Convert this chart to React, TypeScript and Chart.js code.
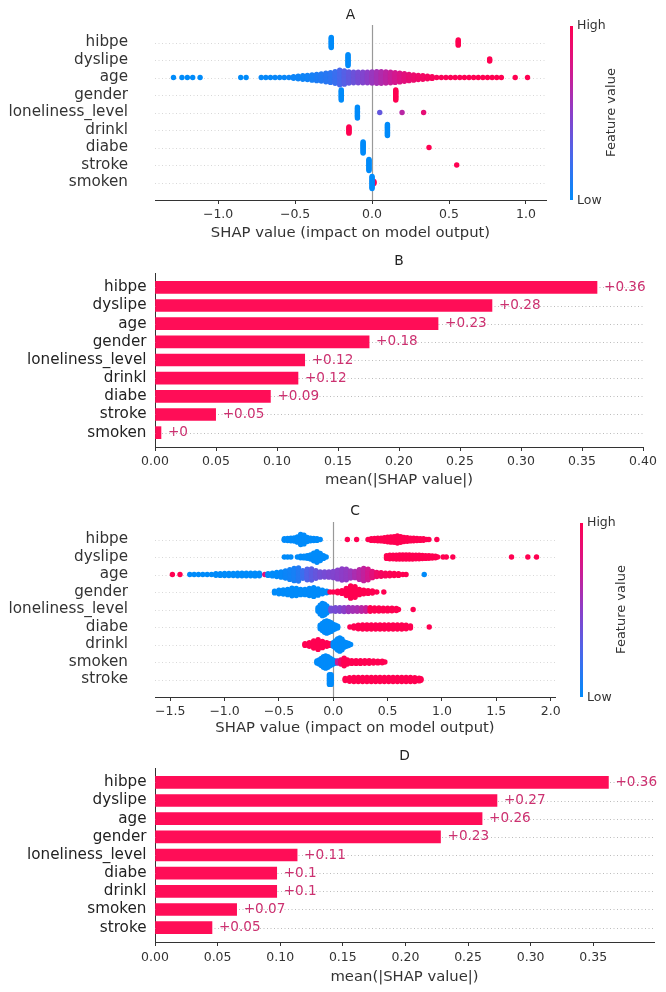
import React, { useEffect, useRef } from "react";
import { Chart, registerables } from "chart.js";

Chart.register(...registerables);

const FONT = "'DejaVu Sans', 'Liberation Sans', Arial, sans-serif";
const PAGE_W = 666;

type Bin = [number, number, number]; // [SHAP value, half spread in rows, feature value 0..1]

// ================= Panel A (beeswarm) =================
const A_FEATURES = ["hibpe", "dyslipe", "age", "gender", "loneliness_level", "drinkl", "diabe", "stroke", "smoken"];
const A_TICKS = [-1, -0.5, 0, 0.5, 1];
const A_X_MIN = -1.41;
const A_X_MAX = 1.13;
const A_HIBPE: Bin[] = [[-0.265, 0.29, 0], [0.56, 0.15, 1]];
const A_DYSLIPE: Bin[] = [[-0.156, 0.31, 0], [0.764, 0.06, 1]];
const A_AGE: Bin[] = [
  [-1.29, 0, 0], [-1.235, 0, 0], [-1.2, 0, 0], [-1.165, 0, 0], [-1.117, 0, 0], [-0.853, 0, 0], [-0.818, 0, 0],
  [-0.72, 0, 0.02], [-0.69, 0, 0.02], [-0.66, 0, 0.02], [-0.63, 0, 0.03], [-0.6, 0, 0.03], [-0.57, 0, 0.03],
  [-0.54, 0.02, 0.04], [-0.51, 0.04, 0.04], [-0.48, 0.07, 0.05], [-0.45, 0.1, 0.05], [-0.42, 0.12, 0.06],
  [-0.39, 0.15, 0.08], [-0.36, 0.18, 0.1], [-0.33, 0.2, 0.12], [-0.3, 0.24, 0.14], [-0.27, 0.28, 0.16],
  [-0.24, 0.33, 0.2], [-0.21, 0.42, 0.25], [-0.18, 0.38, 0.3], [-0.15, 0.32, 0.34], [-0.12, 0.3, 0.38],
  [-0.09, 0.3, 0.42], [-0.06, 0.3, 0.46], [-0.03, 0.3, 0.5], [0, 0.32, 0.54], [0.03, 0.33, 0.58],
  [0.06, 0.33, 0.62], [0.09, 0.32, 0.66], [0.12, 0.3, 0.7], [0.15, 0.28, 0.74], [0.18, 0.25, 0.78],
  [0.21, 0.22, 0.82], [0.24, 0.18, 0.85], [0.27, 0.15, 0.88], [0.3, 0.12, 0.9], [0.33, 0.1, 0.92],
  [0.36, 0.07, 0.94], [0.39, 0.05, 0.95], [0.42, 0.03, 0.96], [0.45, 0, 0.97], [0.48, 0, 0.97],
  [0.51, 0, 0.98], [0.54, 0, 0.98], [0.57, 0, 0.98], [0.6, 0, 0.99], [0.63, 0, 0.99], [0.66, 0, 0.99],
  [0.69, 0, 1], [0.72, 0, 1], [0.75, 0, 1], [0.78, 0, 1], [0.81, 0, 1], [0.84, 0, 1],
  [0.93, 0, 1], [1.01, 0, 1],
];
const A_GENDER: Bin[] = [[-0.2, 0.29, 0], [0.154, 0.29, 1]];
const A_LONELY: Bin[] = [[-0.095, 0.31, 0], [0.05, 0, 0.35], [0.195, 0, 0.65], [0.335, 0, 0.85]];
const A_DRINKL: Bin[] = [[-0.15, 0.18, 1], [0.1, 0.32, 0]];
const A_DIABE: Bin[] = [[-0.058, 0.32, 0], [0.37, 0, 1]];
const A_STROKE: Bin[] = [[-0.02, 0.32, 0], [0.55, 0, 1]];
const A_SMOKEN: Bin[] = [[0.012, 0.06, 1], [0.0, 0.34, 0]];
const A_ROWS = [A_HIBPE, A_DYSLIPE, A_AGE, A_GENDER, A_LONELY, A_DRINKL, A_DIABE, A_STROKE, A_SMOKEN];

// ================= Panel B (bar) =================
const B_FEATURES = ["hibpe", "dyslipe", "age", "gender", "loneliness_level", "drinkl", "diabe", "stroke", "smoken"];
const B_VALUES = [0.3623, 0.2762, 0.232, 0.1755, 0.1227, 0.1172, 0.0946, 0.0497, 0.0049];
const B_TICKS = [0, 0.05, 0.1, 0.15, 0.2, 0.25, 0.3, 0.35, 0.4];
const B_X_MAX = 0.4;

// ================= Panel C (beeswarm) =================
const C_FEATURES = ["hibpe", "dyslipe", "age", "gender", "loneliness_level", "diabe", "drinkl", "smoken", "stroke"];
const C_TICKS = [-1.5, -1, -0.5, 0, 0.5, 1, 1.5, 2];
const C_X_MIN = -1.64;
const C_X_MAX = 2.04;
const C_HIBPE: Bin[] = [
  [-0.45, 0.04, 0], [-0.42, 0.06, 0], [-0.39, 0.07, 0], [-0.36, 0.09, 0], [-0.33, 0.15, 0], [-0.3, 0.29, 0],
  [-0.27, 0.25, 0], [-0.24, 0.12, 0], [-0.21, 0.07, 0], [-0.18, 0.06, 0], [-0.15, 0.05, 0], [-0.12, 0.02, 0],
  [0.13, 0, 1], [0.215, 0, 1],
  [0.32, 0.03, 1], [0.35, 0.05, 1], [0.38, 0.06, 1], [0.41, 0.07, 1], [0.44, 0.08, 1], [0.47, 0.1, 1],
  [0.5, 0.13, 1], [0.53, 0.15, 1], [0.56, 0.16, 1], [0.59, 0.2, 1], [0.62, 0.16, 1], [0.65, 0.12, 1],
  [0.68, 0.1, 1], [0.71, 0.08, 1], [0.74, 0.07, 1], [0.77, 0.06, 1], [0.8, 0.05, 1], [0.83, 0.04, 1],
  [0.86, 0.03, 1], [0.88, 0, 1], [0.953, 0, 1],
];
const C_DYSLIPE: Bin[] = [
  [-0.45, 0, 0], [-0.42, 0, 0], [-0.39, 0, 0], [-0.33, 0.03, 0], [-0.3, 0.04, 0], [-0.27, 0.05, 0],
  [-0.24, 0.07, 0], [-0.21, 0.12, 0], [-0.18, 0.22, 0], [-0.15, 0.3, 0], [-0.12, 0.2, 0], [-0.09, 0.08, 0],
  [-0.065, 0, 0],
  [0.49, 0.08, 1], [0.52, 0.1, 1], [0.55, 0.1, 1], [0.58, 0.11, 1], [0.61, 0.12, 1], [0.64, 0.12, 1],
  [0.67, 0.12, 1], [0.7, 0.12, 1], [0.73, 0.11, 1], [0.76, 0.1, 1], [0.79, 0.1, 1], [0.82, 0.09, 1],
  [0.85, 0.08, 1], [0.88, 0.07, 1], [0.91, 0.06, 1], [0.94, 0.04, 1], [0.96, 0, 1],
  [1.01, 0, 1], [1.04, 0, 1], [1.1, 0, 1], [1.64, 0, 1], [1.79, 0, 1], [1.87, 0, 1],
];
const C_AGE: Bin[] = [
  [-1.48, 0, 1], [-1.41, 0, 1],
  [-1.32, 0, 0], [-1.28, 0, 0], [-1.24, 0, 0], [-1.2, 0.02, 0], [-1.16, 0.03, 0], [-1.12, 0.03, 0],
  [-1.08, 0.04, 0], [-1.04, 0.05, 0], [-1.0, 0.06, 0], [-0.96, 0.06, 0], [-0.92, 0.06, 0], [-0.88, 0.07, 0],
  [-0.84, 0.07, 0], [-0.8, 0.07, 0], [-0.76, 0.07, 0], [-0.72, 0.08, 0], [-0.68, 0.07, 0], [-0.63, 0, 0.8],
  [-0.6, 0.05, 0], [-0.56, 0.08, 0], [-0.52, 0.12, 0], [-0.48, 0.15, 0.02], [-0.44, 0.2, 0.04],
  [-0.4, 0.28, 0.06], [-0.36, 0.35, 0.08], [-0.32, 0.37, 0.12], [-0.28, 0.22, 0.2], [-0.24, 0.3, 0.28],
  [-0.2, 0.32, 0.32], [-0.16, 0.22, 0.36], [-0.12, 0.15, 0.4], [-0.08, 0.14, 0.42], [-0.04, 0.15, 0.44],
  [0, 0.18, 0.46], [0.04, 0.25, 0.48], [0.08, 0.32, 0.5], [0.12, 0.3, 0.52], [0.16, 0.2, 0.55],
  [0.2, 0.18, 0.6], [0.24, 0.28, 0.64], [0.28, 0.35, 0.68], [0.32, 0.3, 0.74], [0.36, 0.18, 0.82],
  [0.4, 0.12, 0.9], [0.44, 0.1, 0.94], [0.48, 0.08, 0.96], [0.52, 0.07, 0.98], [0.56, 0.06, 1],
  [0.6, 0.05, 1], [0.64, 0.03, 1], [0.67, 0, 1], [0.837, 0, 0],
];
const C_GENDER: Bin[] = [
  [-0.54, 0.05, 0], [-0.5, 0.1, 0], [-0.46, 0.12, 0], [-0.42, 0.15, 0], [-0.38, 0.22, 0], [-0.34, 0.2, 0],
  [-0.3, 0.15, 0], [-0.26, 0.15, 0], [-0.22, 0.2, 0], [-0.18, 0.25, 0], [-0.14, 0.18, 0], [-0.1, 0.1, 0],
  [-0.06, 0.04, 0],
  [-0.03, 0, 1], [0.0, 0.03, 1], [0.04, 0.04, 1], [0.08, 0.08, 1], [0.12, 0.2, 1], [0.16, 0.35, 1],
  [0.2, 0.3, 1], [0.24, 0.15, 1], [0.28, 0.1, 1], [0.32, 0.08, 1], [0.36, 0.06, 1], [0.4, 0.03, 1],
  [0.465, 0, 1],
];
const C_LONELY: Bin[] = [
  [-0.14, 0.1, 0], [-0.12, 0.25, 0], [-0.1, 0.35, 0], [-0.08, 0.3, 0], [-0.06, 0.2, 0], [-0.04, 0.08, 0],
  [-0.02, 0.08, 0.4], [0.02, 0.1, 0.42], [0.06, 0.1, 0.45], [0.1, 0.11, 0.5], [0.14, 0.12, 0.55],
  [0.18, 0.1, 0.58], [0.22, 0.1, 0.6], [0.26, 0.1, 0.65], [0.3, 0.1, 0.7],
  [0.34, 0.1, 1], [0.38, 0.09, 1], [0.42, 0.09, 1], [0.46, 0.08, 1], [0.5, 0.08, 1], [0.54, 0.07, 1],
  [0.58, 0.06, 1], [0.6, 0.03, 1], [0.735, 0, 1],
];
const C_DIABE: Bin[] = [
  [-0.12, 0.1, 0], [-0.1, 0.2, 0], [-0.08, 0.3, 0], [-0.06, 0.35, 0], [-0.04, 0.3, 0], [-0.02, 0.25, 0],
  [0, 0.15, 0], [0.02, 0.1, 0], [0.04, 0.05, 0],
  [0.153, 0, 1], [0.19, 0.06, 1], [0.23, 0.1, 1], [0.27, 0.12, 1], [0.31, 0.12, 1], [0.35, 0.12, 1],
  [0.39, 0.12, 1], [0.43, 0.12, 1], [0.47, 0.12, 1], [0.51, 0.12, 1], [0.55, 0.12, 1], [0.59, 0.12, 1],
  [0.63, 0.12, 1], [0.67, 0.1, 1], [0.71, 0.06, 1], [0.883, 0, 1],
];
const C_DRINKL: Bin[] = [
  [-0.26, 0.05, 1], [-0.22, 0.1, 1], [-0.18, 0.2, 1], [-0.14, 0.28, 1], [-0.1, 0.18, 1], [-0.06, 0.1, 1],
  [-0.03, 0.05, 1],
  [0, 0.1, 0], [0.02, 0.2, 0], [0.04, 0.32, 0], [0.06, 0.38, 0], [0.08, 0.3, 0], [0.1, 0.15, 0],
  [0.12, 0.1, 0], [0.14, 0.06, 0], [0.16, 0.02, 0],
];
const C_SMOKEN: Bin[] = [
  [-0.15, 0.06, 0], [-0.13, 0.12, 0], [-0.11, 0.2, 0], [-0.09, 0.3, 0], [-0.07, 0.35, 0], [-0.05, 0.3, 0],
  [-0.03, 0.22, 0], [-0.01, 0.15, 0], [0.01, 0.08, 0], [0.03, 0.04, 0],
  [0.04, 0.06, 0.7], [0.07, 0.12, 0.9], [0.1, 0.22, 1], [0.13, 0.12, 1], [0.17, 0.08, 1], [0.21, 0.08, 1],
  [0.25, 0.08, 1], [0.29, 0.07, 1], [0.33, 0.07, 1], [0.37, 0.06, 1], [0.41, 0.05, 1], [0.45, 0.04, 1],
  [0.475, 0, 1],
];
const C_STROKE: Bin[] = [
  [-0.035, 0.28, 0], [-0.02, 0.28, 0],
  [0.11, 0.06, 1], [0.15, 0.1, 1], [0.19, 0.12, 1], [0.23, 0.12, 1], [0.27, 0.12, 1], [0.31, 0.12, 1],
  [0.35, 0.12, 1], [0.39, 0.12, 1], [0.43, 0.12, 1], [0.47, 0.12, 1], [0.51, 0.12, 1], [0.55, 0.12, 1],
  [0.59, 0.12, 1], [0.63, 0.12, 1], [0.67, 0.12, 1], [0.71, 0.12, 1], [0.75, 0.11, 1], [0.79, 0.08, 1],
  [0.806, 0.04, 1],
];
const C_ROWS = [C_HIBPE, C_DYSLIPE, C_AGE, C_GENDER, C_LONELY, C_DIABE, C_DRINKL, C_SMOKEN, C_STROKE];

// ================= Panel D (bar) =================
const D_FEATURES = ["hibpe", "dyslipe", "age", "gender", "loneliness_level", "diabe", "drinkl", "smoken", "stroke"];
const D_VALUES = [0.3621, 0.2731, 0.2612, 0.228, 0.1135, 0.0972, 0.0972, 0.0652, 0.0455];
const D_TICKS = [0, 0.05, 0.1, 0.15, 0.2, 0.25, 0.3, 0.35];
const D_X_MAX = 0.3985;

// ================= styles =================
const BAR_RED = "#ff0d57";
const VALUE_TEXT = "#cc3170";
const TEXT = "#333333";
const CMAP: [number, number, number, number][] = [
  [0, 0, 139, 250],
  [0.25, 72, 104, 236],
  [0.5, 140, 62, 200],
  [0.75, 214, 22, 140],
  [1, 255, 0, 81],
];
function cmap(c: number): string {
  for (let i = 1; i < CMAP.length; i++) {
    if (c <= CMAP[i][0]) {
      const a = CMAP[i - 1], b = CMAP[i];
      const t = (c - a[0]) / (b[0] - a[0]);
      const r = Math.round(a[1] + (b[1] - a[1]) * t);
      const g = Math.round(a[2] + (b[2] - a[2]) * t);
      const bl = Math.round(a[3] + (b[3] - a[3]) * t);
      return `rgb(${r},${g},${bl})`;
    }
  }
  return "rgb(255,0,81)";
}

const SPREAD_STEP = 0.07;
function swarm(rows: Bin[][]) {
  const n = rows.length;
  const data: { x: number; y: number }[] = [];
  const colors: string[] = [];
  rows.forEach((bins, i) => {
    const pos = n - 1 - i;
    for (const [x, h, c] of bins) {
      const k = Math.max(0, Math.round(h / SPREAD_STEP));
      for (let j = -k; j <= k; j++) {
        data.push({ x, y: pos + (k === 0 ? 0 : (j / k) * h) });
        colors.push(cmap(c));
      }
    }
  });
  return { data, colors };
}

function fmtValue(v: number) {
  let s = v.toFixed(2);
  s = s.replace(/0+$/, "").replace(/\.$/, "");
  return "+" + s;
}
function fmtSigned1(v: number) {
  const s = Math.abs(v).toFixed(1);
  return v < 0 ? "\u2212" + s : s;
}

interface Layout {
  top: number; height: number; left: number; right: number;
  plotTop: number; plotBottom: number; titleY: number; tickPad: number; axisTitleY: number;
  labelGap: number; colorbarX?: number;
}

const LAYOUT_A: Layout = { top: 0, height: 248, left: 155, right: 546, plotTop: 25, plotBottom: 200, titleY: 15, tickPad: 3, axisTitleY: 233, labelGap: 27, colorbarX: 570 };
const LAYOUT_B: Layout = { top: 248, height: 244, left: 155, right: 643, plotTop: 273, plotBottom: 447, titleY: 261.5, tickPad: 3.5, axisTitleY: 480, labelGap: 8.5 };
const LAYOUT_C: Layout = { top: 492, height: 248, left: 155, right: 555, plotTop: 522, plotBottom: 697, titleY: 511.7, tickPad: 2.8, axisTitleY: 728.5, labelGap: 27, colorbarX: 580 };
const LAYOUT_D: Layout = { top: 740, height: 252, left: 155, right: 654, plotTop: 768, plotBottom: 942, titleY: 756.7, tickPad: 4, axisTitleY: 976.7, labelGap: 8.5 };

const AXIS_TITLE_SIZE = 14.8;
const TICK_SIZE = 12.5;
const LABEL_SIZE = 15.2;
const TITLE_SIZE = 13.8;
const DOT_R = 2.7;

function makeDecor(L: Layout, title: string, opts: { rows?: number; rowColor?: string; zeroLine?: boolean; valueLabels?: string[] }) {
  return {
    id: "decor",
    beforeDatasetsDraw(chart: any) {
      const { ctx, chartArea: ca, scales } = chart;
      ctx.save();
      if (opts.rows) {
        ctx.strokeStyle = opts.rowColor || "#ccc";
        ctx.lineWidth = 1;
        ctx.setLineDash([1, 2.5]);
        for (let p = 0; p < opts.rows; p++) {
          const y = Math.round(scales.y.getPixelForValue(p)) + 0.5;
          ctx.beginPath();
          ctx.moveTo(ca.left, y);
          ctx.lineTo(ca.right, y);
          ctx.stroke();
        }
        ctx.setLineDash([]);
      }
      if (opts.zeroLine) {
        const x = Math.round(scales.x.getPixelForValue(0)) + 0.5;
        ctx.strokeStyle = "#999999";
        ctx.lineWidth = 1.2;
        ctx.beginPath();
        ctx.moveTo(x, ca.top);
        ctx.lineTo(x, ca.bottom);
        ctx.stroke();
      }
      ctx.restore();
    },
    afterDatasetsDraw(chart: any) {
      if (!opts.valueLabels) return;
      const { ctx } = chart;
      const meta = chart.getDatasetMeta(0);
      ctx.save();
      ctx.font = `${13.6}px ${FONT}`;
      ctx.fillStyle = VALUE_TEXT;
      ctx.textAlign = "left";
      ctx.textBaseline = "middle";
      meta.data.forEach((el: any, i: number) => {
        ctx.fillText(opts.valueLabels![i], el.x + 7, el.y);
      });
      ctx.restore();
    },
    afterDraw(chart: any) {
      const { ctx, chartArea: ca } = chart;
      ctx.save();
      ctx.font = `${TITLE_SIZE}px ${FONT}`;
      ctx.fillStyle = "#222";
      ctx.textAlign = "center";
      ctx.textBaseline = "middle";
      ctx.fillText(title, (ca.left + ca.right) / 2, L.titleY - L.top);
      if (L.colorbarX != null) {
        const x = L.colorbarX;
        const g = ctx.createLinearGradient(0, ca.bottom, 0, ca.top);
        for (let i = 0; i <= 10; i++) g.addColorStop(i / 10, cmap(i / 10));
        ctx.fillStyle = g;
        ctx.fillRect(x, ca.top + 1, 3, ca.bottom - ca.top - 1);
        ctx.fillStyle = TEXT;
        ctx.font = `${TICK_SIZE}px ${FONT}`;
        ctx.textAlign = "left";
        ctx.fillText("High", x + 7, ca.top + 1);
        ctx.fillText("Low", x + 7, ca.bottom + 1);
        ctx.font = `${13}px ${FONT}`;
        ctx.translate(x + 42, (ca.top + ca.bottom) / 2);
        ctx.rotate(-Math.PI / 2);
        ctx.textAlign = "center";
        ctx.fillText("Feature value", 0, 0);
      }
      ctx.restore();
    },
  };
}

function xScale(L: Layout, min: number, max: number, ticks: number[], fmt: (v: number) => string, title: string) {
  const bottom = L.top + L.height;
  return {
    type: "linear",
    position: "bottom",
    min,
    max,
    afterBuildTicks: (s: any) => { s.ticks = ticks.map((v) => ({ value: v })); },
    afterFit: (s: any) => { s.height = bottom - L.plotBottom; },
    ticks: {
      autoSkip: false, maxRotation: 0, minRotation: 0, padding: L.tickPad, color: TEXT,
      font: { family: FONT, size: TICK_SIZE },
      callback: (v: any) => fmt(Number(v)),
    },
    grid: { display: true, drawOnChartArea: false, drawTicks: true, tickLength: 4, tickColor: "#333", tickWidth: 1 },
    border: { display: true, color: "#333", width: 1 },
    title: {
      display: true, text: title, color: TEXT,
      font: { family: FONT, size: AXIS_TITLE_SIZE },
      padding: { top: 0, bottom: bottom - L.axisTitleY - (AXIS_TITLE_SIZE * 1.2) / 2 },
    },
  };
}

function yScale(L: Layout, names: string[], min: number, max: number, showBorder: boolean, color: string) {
  const n = names.length;
  return {
    type: "linear",
    position: "left",
    min,
    max,
    offset: false,
    afterBuildTicks: (s: any) => { s.ticks = names.map((_, i) => ({ value: i })); },
    afterFit: (s: any) => { s.width = L.left; },
    ticks: {
      autoSkip: false, padding: 0, color,
      font: { family: FONT, size: LABEL_SIZE },
      callback: (v: any) => names[n - 1 - Number(v)],
    },
    // invisible tick marks provide the gap between label and plot
    grid: { display: false, drawOnChartArea: false, drawTicks: true, tickLength: L.labelGap, tickColor: "rgba(0,0,0,0)" },
    border: { display: showBorder, color: "#333", width: 1 },
  };
}

function baseOptions(L: Layout) {
  return {
    responsive: false,
    animation: false,
    devicePixelRatio: 1,
    events: [],
    layout: { padding: { left: 0, top: L.plotTop - L.top, right: PAGE_W - L.right, bottom: 0 } },
    plugins: { legend: { display: false }, tooltip: { enabled: false }, title: { display: false } },
  };
}

function beeswarmConfig(L: Layout, title: string, names: string[], rows: Bin[][], min: number, max: number, ticks: number[]) {
  const { data, colors } = swarm(rows);
  return {
    type: "scatter",
    data: {
      datasets: [{
        data,
        pointRadius: DOT_R,
        pointBorderWidth: 0,
        pointBackgroundColor: colors,
        backgroundColor: colors,
        borderColor: "rgba(0,0,0,0)",
        showLine: false,
      }],
    },
    options: {
      ...baseOptions(L),
      scales: {
        x: xScale(L, min, max, ticks, fmtSigned1, "SHAP value (impact on model output)"),
        y: yScale(L, names, -1, names.length, false, TEXT),
      },
    },
    plugins: [makeDecor(L, title, { rows: names.length, rowColor: "#d8d8d8", zeroLine: true })],
  };
}

function barConfig(L: Layout, title: string, names: string[], values: number[], xMax: number, ticks: number[]) {
  const n = names.length;
  return {
    type: "bar",
    data: {
      datasets: [{
        data: values.map((v, i) => ({ x: v, y: n - 1 - i })),
        backgroundColor: BAR_RED,
        borderWidth: 0,
        barThickness: 12,
      }],
    },
    options: {
      ...baseOptions(L),
      indexAxis: "y",
      scales: {
        x: xScale(L, 0, xMax, ticks, (v) => v.toFixed(2), "mean(|SHAP value|)"),
        y: yScale(L, names, -0.79, n - 1 + 0.79, true, "#222"),
      },
    },
    plugins: [makeDecor(L, title, { rows: n, rowColor: "#bcbcbc", valueLabels: values.map(fmtValue) })],
  };
}

function Panel({ layout, build }: { layout: Layout; build: () => any }) {
  const ref = useRef<HTMLCanvasElement>(null);
  useEffect(() => {
    const chart = new Chart(ref.current as HTMLCanvasElement, build());
    return () => chart.destroy();
  }, []);
  return (
    <canvas
      ref={ref}
      width={PAGE_W}
      height={layout.height}
      style={{ position: "absolute", left: 0, top: layout.top, width: PAGE_W, height: layout.height, display: "block" }}
    />
  );
}

export default function App() {
  return (
    <div style={{ position: "absolute", left: 0, top: 0, width: PAGE_W, height: 992, background: "#fff", overflow: "hidden" }}>
      <Panel layout={LAYOUT_A} build={() => beeswarmConfig(LAYOUT_A, "A", A_FEATURES, A_ROWS, A_X_MIN, A_X_MAX, A_TICKS)} />
      <Panel layout={LAYOUT_B} build={() => barConfig(LAYOUT_B, "B", B_FEATURES, B_VALUES, B_X_MAX, B_TICKS)} />
      <Panel layout={LAYOUT_C} build={() => beeswarmConfig(LAYOUT_C, "C", C_FEATURES, C_ROWS, C_X_MIN, C_X_MAX, C_TICKS)} />
      <Panel layout={LAYOUT_D} build={() => barConfig(LAYOUT_D, "D", D_FEATURES, D_VALUES, D_X_MAX, D_TICKS)} />
    </div>
  );
}
